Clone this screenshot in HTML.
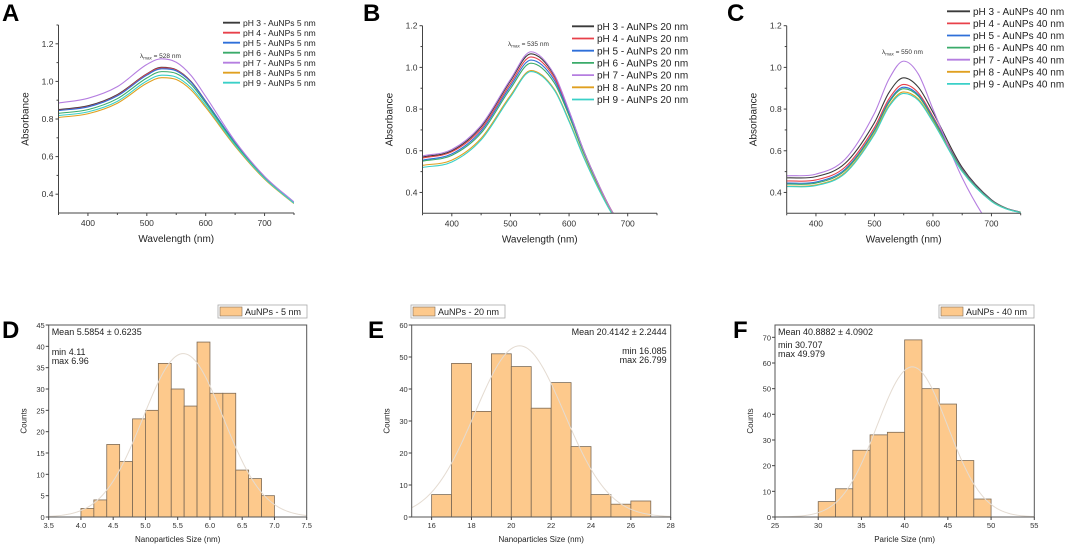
<!DOCTYPE html>
<html><head><meta charset="utf-8"><style>
body{margin:0;background:#fff;}
svg{display:block;font-family:"Liberation Sans",Arial,sans-serif;}
</style></head><body>
<svg id="fig" width="1065" height="548" viewBox="0 0 1065 548"></svg>
<script>
// ---------- DATA ----------
const seriesLabels = ["pH 3","pH 4","pH 5","pH 6","pH 7","pH 8","pH 9"];
const seriesColors = ["#3a3a3a","#e8404a","#2e6fd9","#3aab6a","#b57ee0","#e0a020","#3ad0c8"];
// Panel A (5 nm)
const wlA = [350,400,450,500,525,550,575,600,650,700,750];
const absA = [
 [0.850,0.870,0.930,1.040,1.075,1.062,1.000,0.895,0.672,0.490,0.356],
 [0.846,0.866,0.926,1.038,1.072,1.060,0.998,0.894,0.672,0.490,0.356],
 [0.845,0.864,0.923,1.033,1.067,1.056,0.996,0.894,0.674,0.492,0.358],
 [0.830,0.850,0.908,1.018,1.052,1.042,0.984,0.885,0.668,0.488,0.354],
 [0.885,0.910,0.972,1.090,1.120,1.102,1.032,0.920,0.682,0.495,0.358],
 [0.808,0.828,0.884,0.990,1.020,1.010,0.955,0.862,0.655,0.480,0.350],
 [0.818,0.838,0.894,1.002,1.033,1.023,0.967,0.872,0.661,0.484,0.352]
];
// Panel B (20 nm)
const wlB = [350,400,450,500,535,575,600,625,650,675,700];
const absB = [
 [0.570,0.600,0.715,0.935,1.065,0.960,0.790,0.600,0.440,0.300,0.210],
 [0.565,0.595,0.705,0.922,1.050,0.950,0.785,0.598,0.440,0.302,0.212],
 [0.555,0.585,0.695,0.910,1.035,0.938,0.778,0.594,0.436,0.300,0.210],
 [0.550,0.578,0.685,0.898,1.020,0.925,0.768,0.588,0.432,0.298,0.208],
 [0.575,0.606,0.722,0.942,1.075,0.965,0.792,0.600,0.440,0.300,0.210],
 [0.530,0.555,0.660,0.865,0.985,0.895,0.745,0.572,0.422,0.292,0.205],
 [0.520,0.546,0.652,0.858,0.980,0.890,0.740,0.568,0.418,0.290,0.203]
];
// Panel C (40 nm)
const wlC = [350,400,450,500,525,550,575,600,650,700,725,750];
const absC = [
 [0.470,0.476,0.540,0.735,0.880,0.950,0.905,0.785,0.520,0.365,0.325,0.305],
 [0.455,0.460,0.522,0.712,0.850,0.918,0.878,0.765,0.512,0.362,0.324,0.305],
 [0.445,0.450,0.512,0.700,0.838,0.905,0.868,0.758,0.510,0.362,0.324,0.305],
 [0.440,0.445,0.506,0.695,0.832,0.898,0.862,0.752,0.506,0.360,0.323,0.304],
 [0.480,0.488,0.560,0.780,0.945,1.030,0.968,0.800,0.470,0.230,0.150,0.100],
 [0.430,0.436,0.496,0.683,0.818,0.882,0.848,0.742,0.502,0.358,0.322,0.304],
 [0.428,0.433,0.492,0.678,0.812,0.875,0.842,0.738,0.500,0.357,0.321,0.303]
];
// Histograms
const binsD = [4.0,4.2,4.4,4.6,4.8,5.0,5.2,5.4,5.6,5.8,6.0,6.2,6.4,6.6,6.8];
const countsD = [2,4,17,13,23,25,36,30,26,41,29,29,11,9,5];
const fitD = [5.5854,0.6235,38.3];
const binsE = [16,17,18,19,20,21,22,23,24,25,26];
const countsE = [7,48,33,51,47,34,42,22,7,4,5];
const fitE = [20.4142,2.2444,53.5];
const binsF = [30,32,34,36,38,40,42,44,46,48];
const countsF = [6,11,26,32,33,69,50,44,22,7];
const fitF = [40.8882,4.0902,58.5];
const ticksWl = [400,500,600,700];

// ---------- HELPERS ----------
const NS="http://www.w3.org/2000/svg";
const svg=document.getElementById('fig');
function el(tag,attrs,parent){const e=document.createElementNS(NS,tag);for(const k in attrs)e.setAttribute(k,attrs[k]);(parent||svg).appendChild(e);return e;}
function txt(x,y,s,attrs,parent){const t=el('text',Object.assign({x:x,y:y,'font-size':8,fill:'#222'},attrs),parent);t.textContent=s;return t;}
// monotone cubic (Fritsch-Carlson) path in pixel space
function smooth(pts){const n=pts.length,d=[],m=[];
 for(let i=0;i<n-1;i++)d.push((pts[i+1][1]-pts[i][1])/(pts[i+1][0]-pts[i][0]));
 m[0]=d[0];m[n-1]=d[n-2];
 for(let i=1;i<n-1;i++){m[i]=(d[i-1]*d[i]<=0)?0:(d[i-1]+d[i])/2;}
 let s=`M${pts[0][0]},${pts[0][1]}`;
 for(let i=0;i<n-1;i++){const h=pts[i+1][0]-pts[i][0];
  s+=` C${pts[i][0]+h/3},${pts[i][1]+m[i]*h/3} ${pts[i+1][0]-h/3},${pts[i+1][1]-m[i+1]*h/3} ${pts[i+1][0]},${pts[i+1][1]}`;}
 return s;}

function letter(x,y,s){const t=txt(x,y,s,{'font-size':24,'font-weight':'bold',fill:'#000'});

}

function spectrum(id,L,R,T,B,ymin,ymax,yticks,wl,abs,sizeLbl,leg,lam){
 const g=el('g',{});
 
 
 const sx=v=>L+(v-350)/(400)*(R-L), sy=v=>B-(v-ymin)/(ymax-ymin)*(B-T);
 const clip=el('clipPath',{id:'clip'+id},g);
 el('rect',{x:L,y:T-5,width:R-L,height:B-T+5},clip);
 abs.forEach((ser,si)=>{const p=el('path',{d:smooth(wl.map((w,i)=>[sx(w),sy(ser[i])])),fill:'none',stroke:seriesColors[si],'stroke-width':1.1,'clip-path':`url(#clip${id})`},g);
  
  });
 el('line',{x1:L,y1:B,x2:R,y2:B,stroke:'#444','stroke-width':1},g);
 el('line',{x1:L,y1:B,x2:L,y2:T,stroke:'#444','stroke-width':1},g);
 ticksWl.forEach(v=>{el('line',{x1:sx(v),y1:B,x2:sx(v),y2:B+3,stroke:'#444'},g);txt(sx(v),B+13,v,{'text-anchor':'middle','font-size':8.5,fill:'#333'},g);
  el('line',{x1:sx(v-50),y1:B,x2:sx(v-50),y2:B+2,stroke:'#444'},g);});
 el('line',{x1:sx(750),y1:B,x2:sx(750),y2:B+2,stroke:'#444'},g);
 yticks.forEach(v=>{el('line',{x1:L,y1:sy(v),x2:L-3,y2:sy(v),stroke:'#444'},g);txt(L-5,sy(v)+3,v.toFixed(1),{'text-anchor':'end','font-size':8.5,fill:'#333'},g);
  if(v+0.1<=ymax+0.001)el('line',{x1:L,y1:sy(v+0.1),x2:L-2,y2:sy(v+0.1),stroke:'#444'},g);});
 const xt=txt((L+R)/2,B+29,'Wavelength (nm)',{'text-anchor':'middle','font-size':10},g);
 
 const yt=txt(0,0,'Absorbance',{'text-anchor':'middle','font-size':10,transform:`translate(${L-30},${(T+B)/2}) rotate(-90)`},g);
 
 const lt=el('text',{x:lam[0],y:lam[1],'font-size':6.5,fill:'#333'},g);
 lt.innerHTML=`λ<tspan font-size="4.5" dy="1.5">max</tspan><tspan dy="-1.5"> = ${lam[2]} nm</tspan>`;
 
 seriesLabels.forEach((s,i)=>{const y=leg[2]+i*leg[3];
  const lg=el('g',{},g);
  
  
  el('line',{x1:leg[0],y1:y,x2:leg[1],y2:y,stroke:seriesColors[i],'stroke-width':1.8},lg);
  txt(leg[1]+3,y+leg[4]*0.36,`${s} - AuNPs ${sizeLbl} nm`,{'font-size':leg[4],fill:'#222'},lg);});
}

function hist(id,L,R,T,B,xmin,xmax,xticks,xdec,ymax,yticks,bins,counts,fit,w,xlabel,stats,leg){
 const g=el('g',{});
 
 
 const sx=v=>L+(v-xmin)/(xmax-xmin)*(R-L), sy=v=>B-v/ymax*(B-T);
 bins.forEach((b,i)=>{const r=el('rect',{x:sx(b),y:sy(counts[i]),width:sx(b+w)-sx(b),height:B-sy(counts[i]),fill:'#fdc98c',stroke:'#7d6a55','stroke-width':0.8},g);
  
  });
 const pts=[];for(let i=0;i<=120;i++){const x=xmin+(xmax-xmin)*i/120;pts.push(`${i?'L':'M'}${sx(x)},${sy(fit[2]*Math.exp(-0.5*((x-fit[0])/fit[1])**2))}`);}
 const fp=el('path',{d:pts.join(' '),fill:'none',stroke:'#e4dbd1','stroke-width':1},g);
 
 el('rect',{x:L,y:T,width:R-L,height:B-T,fill:'none',stroke:'#555','stroke-width':1},g);
 xticks.forEach(v=>{el('line',{x1:sx(v),y1:B,x2:sx(v),y2:B+3,stroke:'#444'},g);txt(sx(v),B+11,v.toFixed(xdec),{'text-anchor':'middle','font-size':7.5,fill:'#333'},g);});
 yticks.forEach(v=>{el('line',{x1:L,y1:sy(v),x2:L-3,y2:sy(v),stroke:'#444'},g);txt(L-4,sy(v)+3,v,{'text-anchor':'end','font-size':7.5,fill:'#333'},g);});
 const xt=txt((L+R)/2,B+25,xlabel,{'text-anchor':'middle','font-size':8},g);
 
 const yt=txt(0,0,'Counts',{'text-anchor':'middle','font-size':8,transform:`translate(${L-22},${(T+B)/2}) rotate(-90)`},g);
 
 const anc=stats[3]?'end':'start';
 [[stats[0],0],[stats[1],stats[4]],[stats[2],stats[4]+9]].forEach((s,k)=>{const t=txt(stats[3]?R-4:L+3,T+10+s[1],s[0],{'text-anchor':anc,'font-size':9,fill:'#222'},g);
  });
 const lg=el('g',{},g);
 
 
 el('rect',{x:leg[0],y:305,width:leg[1]-leg[0],height:13,fill:'#fff',stroke:'#aaa','stroke-width':0.8},lg);
 el('rect',{x:leg[0]+2,y:307,width:22,height:9,fill:'#fdc98c',stroke:'#7d6a55','stroke-width':0.6},lg);
 txt(leg[0]+27,315,leg[2],{'font-size':9,fill:'#222'},lg);
}

letter(2,21,'A');letter(363,21,'B');letter(727,21,'C');
letter(2,338,'D');letter(368,338,'E');letter(733,338,'F');

spectrum('a',58.5,294,25,213,0.3,1.3,[0.4,0.6,0.8,1.0,1.2],wlA,absA,'5',[223,240,22.7,10,8.5],[140,58,528]);
spectrum('b',422.5,657,25.7,213.3,0.3,1.2,[0.4,0.6,0.8,1.0,1.2],wlB,absB,'20',[572,594,26.3,12.2,10],[508,46,535]);
spectrum('c',786.7,1020.7,25.7,213.3,0.3,1.2,[0.4,0.6,0.8,1.0,1.2],wlC,absC,'40',[947,970,11.3,12.1,10],[882,54,550]);

hist('d',48.7,306.7,325,517,3.5,7.5,[3.5,4.0,4.5,5.0,5.5,6.0,6.5,7.0,7.5],1,45,[0,5,10,15,20,25,30,35,40,45],binsD,countsD,fitD,0.2,'Nanoparticles Size (nm)',['Mean 5.5854 ± 0.6235','min 4.11','max 6.96',false,20],[218,307,'AuNPs - 5 nm']);
hist('e',411.7,670.7,325,517,15,28,[16,18,20,22,24,26,28],0,60,[0,10,20,30,40,50,60],binsE,countsE,fitE,1,'Nanoparticles Size (nm)',['Mean 20.4142 ± 2.2444','min 16.085','max 26.799',true,19],[411,505,'AuNPs - 20 nm']);
hist('f',775,1034.3,325,517,25,55,[25,30,35,40,45,50,55],0,74.8,[0,10,20,30,40,50,60,70],binsF,countsF,fitF,2,'Paricle Size (nm)',['Mean 40.8882 ± 4.0902','min 30.707','max 49.979',false,13],[939,1034,'AuNPs - 40 nm']);
</script>
</body></html>
